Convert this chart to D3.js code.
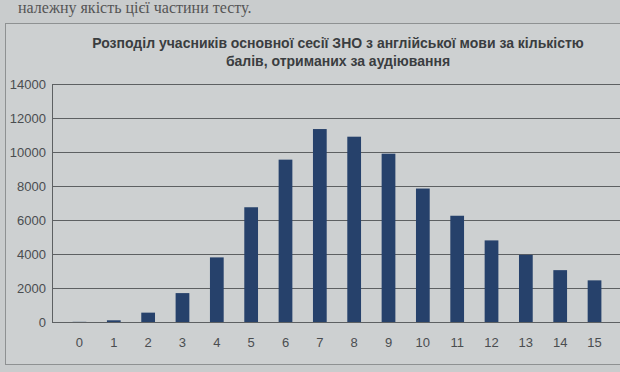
<!DOCTYPE html>
<html>
<head>
<meta charset="utf-8">
<script src="https://cdn.jsdelivr.net/npm/d3@7"></script>
<style>
  body { margin: 0; background: #c9cccd; }
  svg { display: block; }
</style>
</head>
<body>
<div id="chart"></div>
<script>
// scores for listening (0..15) and number of participants
const scores = ["0", "1", "2", "3", "4", "5", "6", "7", "8", "9", "10", "11", "12", "13", "14", "15"];
const counts = [10, 100, 550, 1700, 3800, 6750, 9550, 11350, 10900, 9900, 7850, 6250, 4800, 3950, 3050, 2450];
const yTicks = [0, 2000, 4000, 6000, 8000, 10000, 12000, 14000];
const titleLines = [
  "Розподіл учасників основної сесії ЗНО з англійської мови за кількістю",
  "балів, отриманих за аудіювання"
];

const width = 620, height = 372;
const margin = { top: 84, right: -2, bottom: 50, left: 52 };

const svg = d3.select("#chart")
  .append("svg")
  .attr("width", width)
  .attr("height", height)
  .style("font-family", "'Liberation Sans', Arial, sans-serif");

// leftover text from the printed page above the chart
svg.append("text")
  .attr("x", 18)
  .attr("y", 13)
  .attr("font-family", "'Liberation Serif', serif")
  .attr("font-size", 16)
  .attr("fill", "#555")
  .text("належну якість цієї частини тесту.");

// chart frame
svg.append("rect")
  .attr("x", 5.5)
  .attr("y", 23.5)
  .attr("width", 640)
  .attr("height", 341)
  .attr("fill", "#cdd0d1")
  .attr("stroke", "#8e9192");

// title
svg.append("g")
  .selectAll("text")
  .data(titleLines)
  .join("text")
  .attr("x", 338)
  .attr("y", (d, i) => 48 + i * 18)
  .attr("text-anchor", "middle")
  .attr("font-weight", "bold")
  .attr("font-size", 14)
  .attr("fill", "#3a3d40")
  .text(d => d);

const x = d3.scaleBand()
  .domain(scores)
  .range([margin.left, width - margin.right])
  .padding(0.6);

const y = d3.scaleLinear()
  .domain([0, 14000])
  .range([height - margin.bottom, margin.top]);

// gridlines
const grid = svg.append("g")
  .attr("transform", `translate(${margin.left},0)`)
  .call(d3.axisLeft(y).tickValues(yTicks).tickSize(-(width - margin.left)).tickFormat(""));
grid.select(".domain").remove();
grid.selectAll(".tick line").attr("stroke", "#5d6062").attr("stroke-width", 1);

// y axis labels
const yAxis = svg.append("g")
  .attr("transform", `translate(${margin.left},0)`)
  .call(d3.axisLeft(y).tickValues(yTicks).tickSize(0).tickPadding(6).tickFormat(d3.format("d")));
yAxis.select(".domain").attr("stroke", "#5d6062");
yAxis.selectAll("text")
  .attr("font-family", "'Liberation Sans', Arial, sans-serif")
  .attr("font-size", 13)
  .attr("fill", "#4a4d50");

// x axis labels
const xAxis = svg.append("g")
  .attr("transform", `translate(0,${height - margin.bottom})`)
  .call(d3.axisBottom(x).tickSize(0).tickPadding(16));
xAxis.select(".domain").attr("stroke", "#5d6062");
xAxis.selectAll("text")
  .attr("font-family", "'Liberation Sans', Arial, sans-serif")
  .attr("font-size", 13)
  .attr("fill", "#4a4d50");

// bars
svg.append("g")
  .selectAll("rect")
  .data(counts)
  .join("rect")
  .attr("x", (d, i) => x(scores[i]))
  .attr("y", d => y(d))
  .attr("width", x.bandwidth())
  .attr("height", d => y(0) - y(d))
  .attr("fill", "#26416b");
</script>
</body>
</html>
